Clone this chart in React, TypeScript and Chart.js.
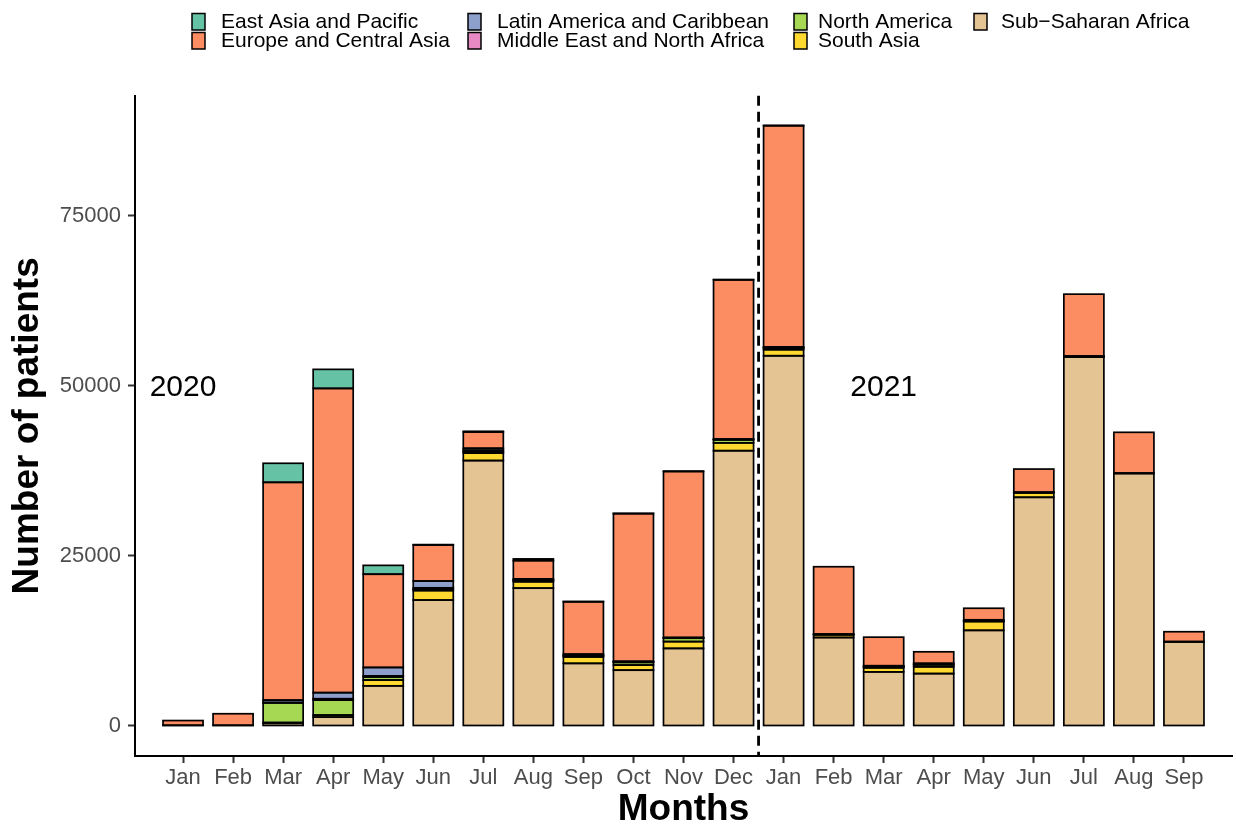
import React, { useEffect, useRef } from 'react';
import { Chart, registerables } from 'chart.js';

Chart.register(...registerables);

const FONT = '"Liberation Sans", Arial, Helvetica, sans-serif';

// Categories (Jan 2020 .. Sep 2021)
const monthLabels = ['Jan', 'Feb', 'Mar', 'Apr', 'May', 'Jun', 'Jul', 'Aug', 'Sep', 'Oct', 'Nov', 'Dec',
  'Jan', 'Feb', 'Mar', 'Apr', 'May', 'Jun', 'Jul', 'Aug', 'Sep'];

// Series values (number of patients)
const subSaharanAfrica = [100, 100, 400, 1300, 5900, 18500, 39000, 20250, 9200, 8200, 11400, 40450, 54400, 13000, 7950, 7700, 14050, 33600, 54200, 37100, 12350];
const southAsia = [0, 0, 100, 300, 850, 1400, 1100, 950, 950, 750, 1000, 1150, 900, 400, 600, 1000, 1300, 650, 100, 50, 50];
const northAmerica = [0, 0, 2900, 2200, 450, 200, 200, 150, 150, 400, 500, 450, 200, 50, 150, 300, 100, 50, 50, 0, 0];
const middleEastNorthAfrica = [0, 0, 50, 200, 150, 200, 200, 100, 100, 50, 50, 50, 100, 0, 50, 50, 50, 0, 0, 0, 0];
const latinAmerica = [0, 0, 350, 900, 1250, 1000, 300, 150, 150, 100, 50, 50, 100, 50, 100, 150, 100, 50, 0, 0, 0];
const europeCentralAsia = [700, 1700, 32000, 44700, 13700, 5300, 2400, 2700, 7700, 21700, 24400, 23400, 32500, 9900, 4200, 1700, 1700, 3400, 9100, 6000, 1450];
const eastAsiaPacific = [0, 0, 2800, 2800, 1300, 50, 100, 250, 50, 50, 50, 50, 50, 0, 0, 0, 0, 0, 0, 0, 0];

// Y tick values
const yTickValues = [0, 25000, 50000, 75000];

// Year annotations
const yearLabels = ['2020', '2021'];
const yearLabelX = [0, 14];
const yearLabelY = 50000;
const yearDivider = 11.5;

// Legend order (as in the reference)
const legendNames = ['East Asia and Pacific', 'Europe and Central Asia', 'Latin America and Caribbean',
  'Middle East and North Africa', 'North America', 'South Asia', 'Sub\u2212Saharan Africa'];

const COLORS: Record<string, string> = {
  'East Asia and Pacific': '#66C2A5',
  'Europe and Central Asia': '#FC8D62',
  'Latin America and Caribbean': '#8DA0CB',
  'Middle East and North Africa': '#E78AC3',
  'North America': '#A6D854',
  'South Asia': '#FFD92F',
  'Sub\u2212Saharan Africa': '#E5C494',
};

const legendPlugin = {
  id: 'ggLegend',
  afterDraw(chart: any) {
    const ctx = chart.ctx;
    const swatchX = [192, 468, 794, 974];
    const textX = [221, 497, 818, 1001];
    const rowSwatchY = [13.5, 32.5];
    const rowTextY = [22, 41.5];
    ctx.save();
    ctx.font = `21px ${FONT}`;
    ctx.textBaseline = 'middle';
    ctx.textAlign = 'left';
    legendNames.forEach((name, i) => {
      const col = Math.floor(i / 2);
      const row = i % 2;
      ctx.fillStyle = COLORS[name];
      ctx.fillRect(swatchX[col], rowSwatchY[row], 13, 16.5);
      ctx.lineWidth = 1.5;
      ctx.strokeStyle = '#000';
      ctx.strokeRect(swatchX[col], rowSwatchY[row], 13, 16.5);
      ctx.fillStyle = '#000';
      ctx.fillText(name, textX[col], rowTextY[row]);
    });
    ctx.restore();
  },
};

// Outline every bar segment centred on its edges (like ggplot's colour = "black")
const outlinePlugin = {
  id: 'barOutline',
  afterDatasetsDraw(chart: any) {
    const ctx = chart.ctx;
    ctx.save();
    ctx.strokeStyle = '#000';
    ctx.lineWidth = 1.7;
    chart.data.datasets.forEach((ds: any, di: number) => {
      const meta = chart.getDatasetMeta(di);
      meta.data.forEach((el: any, i: number) => {
        if (!ds.data[i] || !ds.data[i].y) return;
        const { x, y, base, width } = el.getProps(['x', 'y', 'base', 'width'], true);
        const top = Math.min(y, base);
        const h = Math.abs(base - y);
        ctx.strokeRect(x - width / 2, top, width, h);
      });
    });
    ctx.restore();
  },
};

const annotationPlugin = {
  id: 'yearAnnotations',
  afterDatasetsDraw(chart: any) {
    const { ctx, chartArea, scales } = chart;
    const x = scales.x.getPixelForValue(yearDivider);
    ctx.save();
    ctx.beginPath();
    ctx.setLineDash([10, 6]);
    ctx.lineWidth = 2.8;
    ctx.strokeStyle = '#000';
    ctx.moveTo(x, chartArea.top);
    ctx.lineTo(x, chartArea.bottom);
    ctx.stroke();
    ctx.setLineDash([]);
    ctx.font = `30px ${FONT}`;
    ctx.fillStyle = '#000';
    ctx.textAlign = 'center';
    ctx.textBaseline = 'middle';
    yearLabels.forEach((t, i) => {
      ctx.fillText(t, scales.x.getPixelForValue(yearLabelX[i]), scales.y.getPixelForValue(yearLabelY) + 2);
    });
    ctx.restore();
  },
};

function makeDataset(name: string, values: number[]) {
  return {
    label: name,
    data: values.map((v, i) => ({ x: i, y: v })),
    backgroundColor: COLORS[name],
    borderWidth: 0,
    barPercentage: 0.8,
    categoryPercentage: 1.0,
  };
}

export default function App() {
  const canvasRef = useRef<HTMLCanvasElement | null>(null);

  useEffect(() => {
    if (!canvasRef.current) return;
    Chart.defaults.font.family = FONT;
    const chart = new Chart(canvasRef.current, {
      type: 'bar',
      data: {
        datasets: [
          makeDataset('Sub\u2212Saharan Africa', subSaharanAfrica),
          makeDataset('South Asia', southAsia),
          makeDataset('North America', northAmerica),
          makeDataset('Middle East and North Africa', middleEastNorthAfrica),
          makeDataset('Latin America and Caribbean', latinAmerica),
          makeDataset('Europe and Central Asia', europeCentralAsia),
          makeDataset('East Asia and Pacific', eastAsiaPacific),
        ] as any,
      },
      options: {
        animation: false,
        responsive: true,
        maintainAspectRatio: false,
        devicePixelRatio: 1,
        layout: { padding: { top: 95.7, right: 4, left: 0, bottom: 0 } },
        plugins: {
          legend: { display: false },
          tooltip: { enabled: false },
        },
        scales: {
          x: {
            type: 'linear',
            min: -0.96,
            max: 20.96,
            stacked: true,
            offset: false,
            afterBuildTicks: (scale: any) => {
              scale.ticks = monthLabels.map((_, i) => ({ value: i }));
            },
            afterFit: (scale: any) => { scale.height = 76; },
            grid: {
              display: true,
              offset: false,
              drawOnChartArea: false,
              drawTicks: true,
              tickLength: 7,
              tickWidth: 2,
              tickColor: '#333333',
            },
            border: { display: true, color: '#000', width: 2 },
            ticks: {
              color: '#4D4D4D',
              font: { size: 22, family: FONT },
              padding: 2,
              autoSkip: false,
              maxRotation: 0,
              callback: (v: any) => monthLabels[v] ?? '',
            },
            title: {
              display: true,
              text: 'Months',
              color: '#000',
              font: { size: 37, weight: 'bold', family: FONT },
              padding: { top: 0, bottom: 0 },
            },
          },
          y: {
            type: 'linear',
            min: -4410,
            max: 92610,
            stacked: true,
            afterBuildTicks: (scale: any) => {
              scale.ticks = yTickValues.map((v) => ({ value: v }));
            },
            afterFit: (scale: any) => { scale.width = 135; },
            grid: {
              display: true,
              drawOnChartArea: false,
              drawTicks: true,
              tickLength: 7,
              tickWidth: 2,
              tickColor: '#333333',
            },
            border: { display: true, color: '#000', width: 2 },
            ticks: {
              color: '#4D4D4D',
              font: { size: 22, family: FONT },
              padding: 7,
              callback: (v: any) => String(v),
            },
            title: {
              display: true,
              text: 'Number of patients',
              color: '#000',
              font: { size: 37, weight: 'bold', family: FONT },
              padding: { top: 6, bottom: 0 },
            },
          },
        },
      } as any,
      plugins: [outlinePlugin, annotationPlugin, legendPlugin],
    });
    return () => chart.destroy();
  }, []);

  return (
    <div style={{ position: 'absolute', left: 0, top: 0, width: 1236, height: 832 }}>
      <canvas ref={canvasRef} />
    </div>
  );
}
